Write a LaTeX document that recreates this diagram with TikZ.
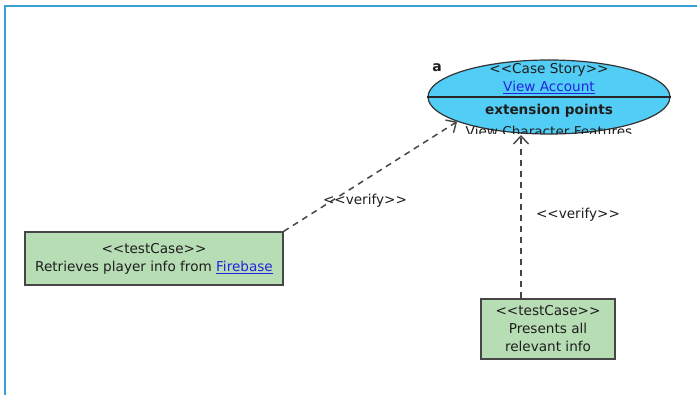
\documentclass[tikz,border=0pt]{standalone}
\usepackage{fontspec}
\setmainfont{DejaVu Sans}[Ligatures=TeXOff]
\usetikzlibrary{shapes.geometric,arrows.meta}
\definecolor{framec}{RGB}{58,160,210}
\definecolor{storyfill}{RGB}{82,205,245}
\definecolor{tcfill}{RGB}{183,221,181}
\definecolor{linkc}{RGB}{35,35,225}
\definecolor{edgec}{RGB}{70,70,70}
\definecolor{txtc}{RGB}{30,30,30}
\newcommand{\ulink}[1]{\textcolor{linkc}{\underline{#1}}}
\tikzset{
  lbl/.style={font=\fontsize{13.6}{16}\selectfont, inner sep=0pt, text=txtc},
  tcbox/.style={draw=edgec, line width=1.3pt, fill=tcfill, rectangle, inner sep=0pt, align=center, text=txtc, font=\fontsize{13.6}{18}\selectfont},
  verifyarrow/.style={draw=edgec, line width=1.5pt, dash pattern=on 6pt off 5pt, -{Straight Barb[length=8pt,width=15pt,line width=1.4pt]}},
}
\begin{document}
\begin{tikzpicture}[x=1pt,y=-1pt]
\useasboundingbox (0,0) rectangle (697,395);
\fill[white] (0,0) rectangle (697,395);
\draw[framec, line width=2pt] (4.5,395) -- (4.5,6.5) -- (697,6.5);
% story ellipse
\node[ellipse, draw=black!80, line width=1.2pt, fill=storyfill, minimum width=242pt, minimum height=74pt, inner sep=0pt] (story) at (549,97) {};
\draw[black!85, line width=1.2pt] (story.west) -- (story.east);
\node[lbl] (st1) at (549,70) {<<Case Story>>};
\node[lbl] (st2) at (549,87.5) {\ulink{View Account}};
\node[lbl, font=\fontsize{13.6}{16}\selectfont\bfseries] (st3) at (549,111) {extension points};
\begin{scope}
\clip (420,100) rectangle (680,134);
\node[lbl] (st4) at (549,131.5) {View Character Features};
\end{scope}
\node[lbl, font=\fontsize{14}{16}\selectfont\bfseries] (alab) at (437,68) {a};
% test cases
\node[tcbox, minimum width=258pt, minimum height=53pt] (tc1) at (154,258.5) {<<testCase>>\\Retrieves player info from \ulink{Firebase}};
\node[tcbox, minimum width=134pt, minimum height=60pt] (tc2) at (548,329) {<<testCase>>\\Presents all\\relevant info};
% connectors
\coordinate (tip2) at (521,135);
\draw[verifyarrow] (tc1.north east) -- (story.195);
\draw[verifyarrow] (tc2.north -| tip2) -- (tip2);
\node[lbl] (v1) at (365,201) {<<verify>>};
\node[lbl] (v2) at (578,215) {<<verify>>};
\end{tikzpicture}
\end{document}
